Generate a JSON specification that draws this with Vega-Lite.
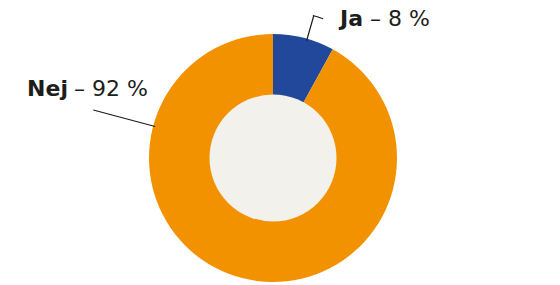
{
  "$schema": "https://vega.github.io/schema/vega-lite/v6.json",
  "width": 546,
  "height": 254,
  "autosize": {"type": "none"},
  "padding": {"left": 0, "top": 31, "right": 14, "bottom": 0},
  "background": "white",
  "view": {"stroke": null},
  "data": {"values": [
    {"svar": "Ja", "andel": 8},
    {"svar": "Nej", "andel": 92}
  ]},
  "transform": [
    {"calculate": "'– ' + datum.andel + ' %'", "as": "etikett"}
  ],
  "layer": [
    {
      "mark": {"type": "arc", "outerRadius": 124, "innerRadius": 0},
      "encoding": {
        "theta": {"field": "andel", "type": "quantitative", "stack": true},
        "color": {"field": "svar", "type": "nominal", "legend": null,
          "scale": {"domain": ["Ja", "Nej"], "range": ["#21489a", "#f39200"]}},
        "order": {"field": "svar", "sort": "ascending"}
      }
    },
    {
      "transform": [{"filter": "datum.svar === 'Ja'"}],
      "mark": {"type": "arc", "theta": 0, "theta2": 6.2832, "outerRadius": 63.5, "innerRadius": 0, "fill": "#f2f1ec"},
      "encoding": {}
    },
    {
      "transform": [{"filter": "datum.svar === 'Ja'"}],
      "mark": {"type": "arc", "theta": 0.279, "theta2": 0.279, "radius": 148, "radius2": 122, "fill": null, "stroke": "#1a1a1a", "strokeWidth": 1.2},
      "encoding": {}
    },
    {
      "transform": [{"filter": "datum.svar === 'Ja'"}],
      "mark": {"type": "arc", "theta": 0.273, "theta2": 0.345, "radius": 148, "radius2": 148, "fill": null, "stroke": "#1a1a1a", "strokeWidth": 1.2},
      "encoding": {}
    },
    {
      "transform": [{"filter": "datum.svar === 'Nej'"}],
      "mark": {"type": "arc", "theta": -1.31, "theta2": -1.31, "radius": 186, "radius2": 122, "fill": null, "stroke": "#1a1a1a", "strokeWidth": 1.2},
      "encoding": {}
    },
    {
      "transform": [{"filter": "datum.svar === 'Ja'"}],
      "mark": {"type": "text", "theta": 0.6164, "radius": 161.8, "align": "right", "baseline": "alphabetic", "dx": -3.5, "font": "DejaVu Sans", "fontSize": 22, "fontWeight": "bold", "color": "#1d1d1b"},
      "encoding": {"text": {"field": "svar"}}
    },
    {
      "transform": [{"filter": "datum.svar === 'Ja'"}],
      "mark": {"type": "text", "theta": 0.6164, "radius": 161.8, "align": "left", "baseline": "alphabetic", "dx": 3.5, "font": "DejaVu Sans", "fontSize": 22, "fontWeight": "normal", "color": "#1d1d1b"},
      "encoding": {"text": {"field": "etikett"}}
    },
    {
      "transform": [{"filter": "datum.svar === 'Nej'"}],
      "mark": {"type": "text", "theta": -1.275, "radius": 211.2, "align": "right", "baseline": "alphabetic", "dx": -3, "font": "DejaVu Sans", "fontSize": 22, "fontWeight": "bold", "color": "#1d1d1b"},
      "encoding": {"text": {"field": "svar"}}
    },
    {
      "transform": [{"filter": "datum.svar === 'Nej'"}],
      "mark": {"type": "text", "theta": -1.275, "radius": 211.2, "align": "left", "baseline": "alphabetic", "dx": 3, "font": "DejaVu Sans", "fontSize": 22, "fontWeight": "normal", "color": "#1d1d1b"},
      "encoding": {"text": {"field": "etikett"}}
    }
  ]
}
